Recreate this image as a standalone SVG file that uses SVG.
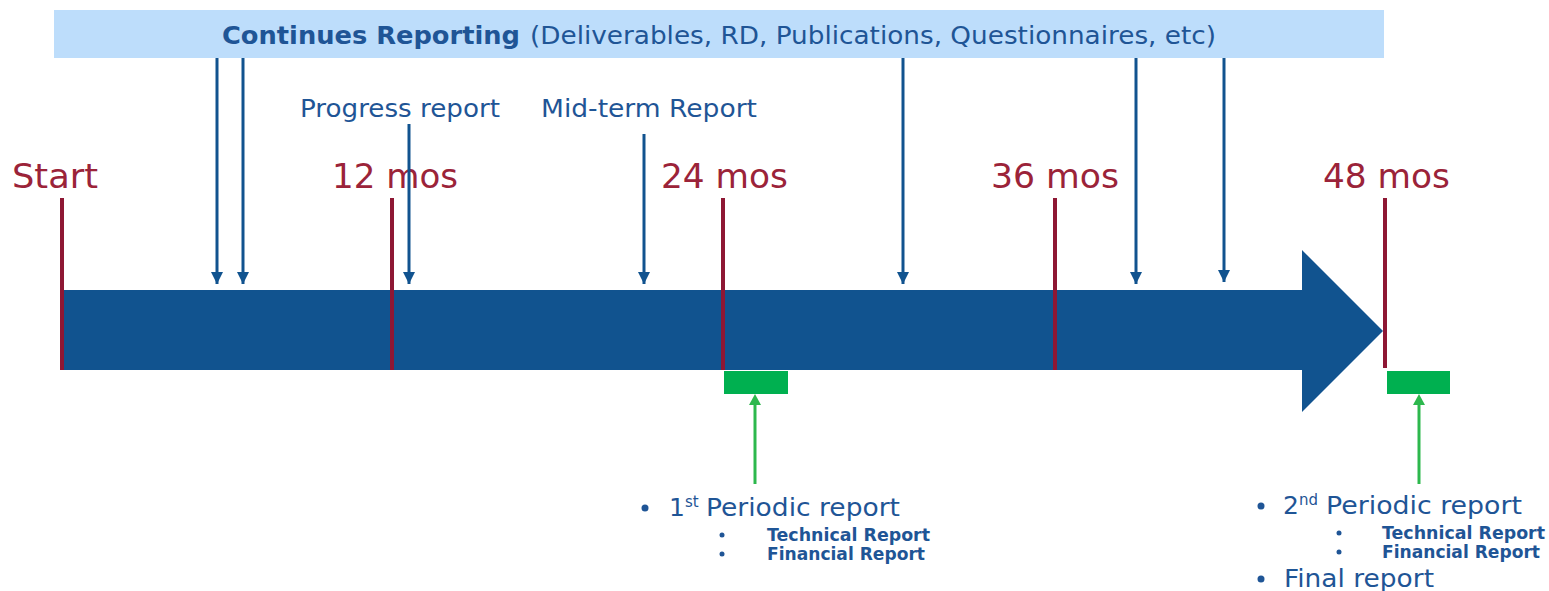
<svg xmlns="http://www.w3.org/2000/svg" width="1549" height="591" viewBox="0 0 1549 591">
<defs>
<marker id="ah" viewBox="0 0 10 10" refX="10" refY="5" markerWidth="4" markerHeight="4" orient="auto" markerUnits="strokeWidth"><path d="M0,0 L10,5 L0,10 z" fill="#11538F"/></marker>
<style>
.t{font-family:"DejaVu Sans",Verdana,sans-serif;fill:#1F5596}
.m{font-family:"DejaVu Sans",Verdana,sans-serif;fill:#9B2339;font-size:34px}
.tick{stroke:#8E1734;stroke-width:4}
.down{stroke:#11538F;stroke-width:3;fill:none;marker-end:url(#ah)}
.up{stroke:#2DB84D;stroke-width:3;fill:none}
.g{fill:#00B050}
.b{font-weight:bold;font-size:17px}
</style>
</defs>
<rect width="1549" height="591" fill="#fff"/>
<g id="banner">
<rect x="54" y="10" width="1330" height="48" fill="#BDDDFB"/>
<text class="t" x="222" y="44" font-size="24"><tspan font-weight="bold" textLength="298" lengthAdjust="spacingAndGlyphs">Continues Reporting</tspan><tspan x="530" textLength="686" lengthAdjust="spacingAndGlyphs">(Deliverables, RD, Publications, Questionnaires, etc)</tspan></text>
</g>
<g id="timeline">
<path d="M62,290 H1302 V250 L1383,331 L1302,412 V370 H62 z" fill="#11538F"/>
</g>
<g id="ticks">
<line class="tick" x1="62" y1="198" x2="62" y2="370"/>
<line class="tick" x1="392" y1="198" x2="392" y2="370"/>
<line class="tick" x1="723" y1="198" x2="723" y2="370"/>
<line class="tick" x1="1055" y1="198" x2="1055" y2="370"/>
<line class="tick" x1="1385" y1="198" x2="1385" y2="368"/>
</g>
<g id="labels">
<text class="m" x="12" y="188" textLength="86" lengthAdjust="spacingAndGlyphs">Start</text>
<text class="m" x="332" y="188" textLength="126" lengthAdjust="spacingAndGlyphs">12 mos</text>
<text class="m" x="661" y="188" textLength="127" lengthAdjust="spacingAndGlyphs">24 mos</text>
<text class="m" x="991" y="188" textLength="128" lengthAdjust="spacingAndGlyphs">36 mos</text>
<text class="m" x="1323" y="188" textLength="127" lengthAdjust="spacingAndGlyphs">48 mos</text>
<text class="t" x="300" y="117" font-size="24" textLength="200" lengthAdjust="spacingAndGlyphs">Progress report</text>
<text class="t" x="541" y="117" font-size="24" textLength="216" lengthAdjust="spacingAndGlyphs">Mid-term Report</text>
</g>
<g id="connectors">
<line class="down" x1="217" y1="58" x2="217" y2="284"/>
<line class="down" x1="243" y1="58" x2="243" y2="284"/>
<line class="down" x1="409" y1="124" x2="409" y2="284"/>
<line class="down" x1="644" y1="134" x2="644" y2="284"/>
<line class="down" x1="903" y1="58" x2="903" y2="284"/>
<line class="down" x1="1136" y1="58" x2="1136" y2="284"/>
<line class="down" x1="1224" y1="58" x2="1224" y2="282"/>
<line class="up" x1="755" y1="484" x2="755" y2="404"/>
<path d="M749,405 L755,394 L761,405 z" fill="#2DB84D"/>
<line class="up" x1="1419" y1="484" x2="1419" y2="404"/>
<path d="M1413,405 L1419,394 L1425,405 z" fill="#2DB84D"/>
</g>
<g id="report1">
<rect class="g" x="724" y="371" width="64" height="23"/>
<circle cx="645" cy="508" r="3.5" fill="#1F5596"/>
<text class="t" x="669" y="516" font-size="25">1<tspan x="685" dy="-9" font-size="15">st</tspan><tspan dy="9" x="706" textLength="194" lengthAdjust="spacingAndGlyphs">Periodic report</tspan></text>
<circle cx="722" cy="535" r="2.5" fill="#1F5596"/>
<text class="t b" x="767" y="541" textLength="163" lengthAdjust="spacingAndGlyphs">Technical Report</text>
<circle cx="722" cy="554" r="2.5" fill="#1F5596"/>
<text class="t b" x="767" y="560" textLength="158" lengthAdjust="spacingAndGlyphs">Financial Report</text>
</g>
<g id="report2">
<rect class="g" x="1387" y="371" width="63" height="23"/>
<circle cx="1261" cy="506" r="3.5" fill="#1F5596"/>
<text class="t" x="1283" y="514" font-size="25">2<tspan x="1299" dy="-9" font-size="15">nd</tspan><tspan dy="9" x="1326" textLength="196" lengthAdjust="spacingAndGlyphs">Periodic report</tspan></text>
<circle cx="1339" cy="533" r="2.5" fill="#1F5596"/>
<text class="t b" x="1382" y="539" textLength="163" lengthAdjust="spacingAndGlyphs">Technical Report</text>
<circle cx="1339" cy="552" r="2.5" fill="#1F5596"/>
<text class="t b" x="1382" y="558" textLength="158" lengthAdjust="spacingAndGlyphs">Financial Report</text>
<circle cx="1261" cy="579" r="3.5" fill="#1F5596"/>
<text class="t" x="1284" y="587" font-size="25" textLength="150" lengthAdjust="spacingAndGlyphs">Final report</text>
</g>
</svg>
